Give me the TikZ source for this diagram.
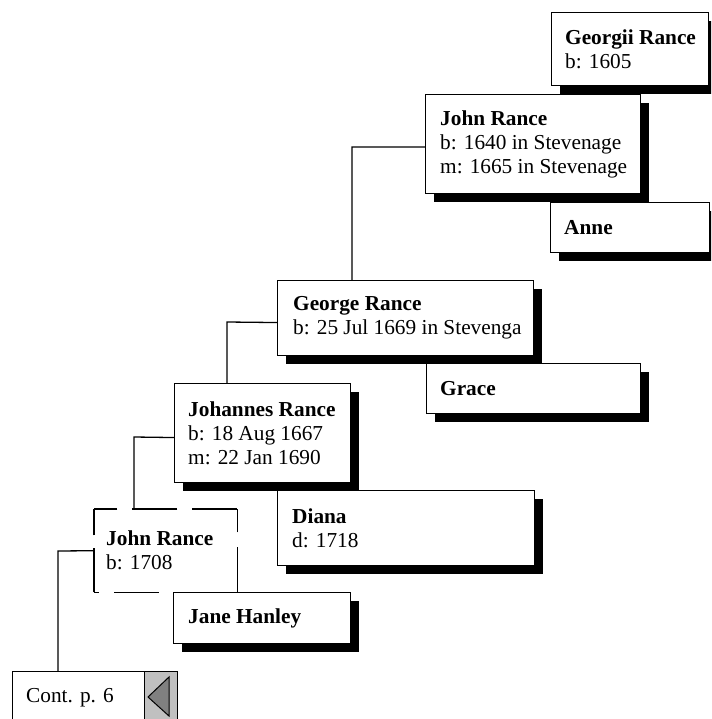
\documentclass[tikz,border=0pt]{standalone}
\usepackage{fontspec}
\setmainfont{Liberation Serif}
\usetikzlibrary{shadows}
\definecolor{btngrey}{HTML}{C0C0C0}
\definecolor{tridark}{HTML}{808080}
\begin{document}
\begin{tikzpicture}[x=1pt,y=-1pt,
  box/.style={draw=black, line width=1.1pt, fill=white, rectangle, inner sep=0pt,
    anchor=north west, drop shadow={shadow xshift=8pt, shadow yshift=-8pt, fill=black, opacity=1}},
  plainbox/.style={draw=none, fill=white, rectangle, inner sep=0pt, anchor=north west},
  txt/.style={inner sep=0pt, align=left, anchor=west, font=\fontsize{21.3pt}{24pt}\selectfont},
  conn/.style={draw=black, line width=1.3pt},
  dashside/.style={draw=black, line width=1.1pt}
]
\useasboundingbox (0,0) rectangle (711,719);
\clip (0,0) rectangle (711,719);

% connectors (drawn first, under boxes)
\coordinate (c1) at (352,147);
\coordinate (c2) at (227,322);
\coordinate (c3) at (134,437);
\coordinate (c4) at (58,551);

% boxes
\node[box, minimum width=157pt, minimum height=73pt] (georgii) at (551,12) {};
\node[txt] (georgiiT) at ([xshift=14pt]georgii.west) {\textbf{Georgii Rance}\\b: 1605};

\node[box, minimum width=215pt, minimum height=99pt] (jr1) at (425,94) {};
\node[txt] (jr1T) at ([xshift=15pt]jr1.west) {\textbf{John Rance}\\b: 1640 in Stevenage\\m: 1665 in Stevenage};

\node[box, minimum width=159pt, minimum height=50pt] (anne) at (550,202) {};
\node[txt] (anneT) at ([xshift=14pt]anne.west) {\textbf{Anne}};

\node[box, minimum width=256pt, minimum height=75pt] (george) at (277,280) {};
\node[txt] (georgeT) at ([xshift=16pt]george.west) {\textbf{George Rance}\\b: 25 Jul 1669 in Stevenga};

\node[box, minimum width=214pt, minimum height=50pt] (grace) at (426,363) {};
\node[txt] (graceT) at ([xshift=14pt]grace.west) {\textbf{Grace}};

\node[box, minimum width=176pt, minimum height=99pt] (johannes) at (174,383) {};
\node[txt] (johannesT) at ([xshift=14pt]johannes.west) {\textbf{Johannes Rance}\\b: 18 Aug 1667\\m: 22 Jan 1690};

\node[box, minimum width=257pt, minimum height=75pt] (diana) at (277,490) {};
\node[txt] (dianaT) at ([xshift=15pt]diana.west) {\textbf{Diana}\\d: 1718};

% dashed box (focus person)
\node[plainbox, minimum width=143pt, minimum height=83pt] (jrd) at (94,509) {};
\node[txt] (jrdT) at ([xshift=12pt]jrd.west) {\textbf{John Rance}\\b: 1708};
\draw[dashside, dash pattern=on 45pt off 15pt] (jrd.north east) -- (jrd.north west);
\draw[dashside, dash pattern=on 45pt off 15pt] (jrd.south east) -- (jrd.north east);
\draw[dashside, dash pattern=on 44pt off 13pt] (jrd.south west) -- (jrd.north west);
\draw[dashside, dash pattern=on 45pt off 15pt, dash phase=40pt] (jrd.south west) -- (jrd.south east);

\node[box, minimum width=177pt, minimum height=51pt] (jane) at (173,592) {};
\node[txt] (janeT) at ([xshift=15pt]jane.west) {\textbf{Jane Hanley}};

% continuation box
\node[plainbox, draw=black, line width=1.1pt, minimum width=165pt, minimum height=80pt] (cont) at (12,671) {};
\node[draw=black, line width=1.1pt, fill=btngrey, rectangle, inner sep=0pt, anchor=north east,
  minimum width=33pt, minimum height=80pt] (contbtn) at (cont.north east) {};
\filldraw[fill=tridark, draw=black, line width=1pt] (148,697) -- (169,677) -- (169,716) -- cycle;
\node[txt, anchor=base west] (contT) at (26,702) {Cont. p. 6};

% connectors
\draw[conn] ([yshift=-3pt]jr1.west) -- (c1) -- (c1 |- george.north);
\draw[conn] ([yshift=-4.5pt]george.west) -- (c2) -- (c2 |- johannes.north);
\draw[conn] ([yshift=-4.5pt]johannes.west) -- (c3) -- (c3 |- jrd.north);
\draw[conn] (jrd.west) -- (c4) -- (c4 |- cont.north);
\end{tikzpicture}
\end{document}
